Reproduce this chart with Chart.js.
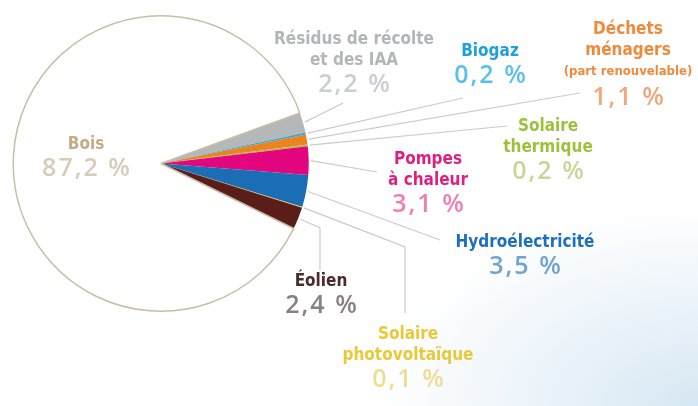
<!DOCTYPE html>
<html lang="fr">
<head>
<meta charset="utf-8">
<script src="https://cdn.jsdelivr.net/npm/chart.js@4.4.0/dist/chart.umd.min.js"></script>
<style>
  html, body { margin: 0; padding: 0; }
  body {
    width: 698px;
    height: 406px;
    overflow: hidden;
    background: radial-gradient(ellipse 320px 200px at 100% 100%, #d6e7f3 0%, #e9f2f9 45%, #ffffff 100%);
  }
  #wrap { position: relative; width: 698px; height: 406px; }
</style>
</head>
<body>
<div id="wrap"><canvas id="mixChart" width="698" height="406"></canvas></div>
<script>
// slices clockwise, starting from the top of the small wedge, wood last
const categories = [
  ['Résidus de récolte', 'et des IAA'],
  ['Biogaz'],
  ['Déchets', 'ménagers', '(part renouvelable)'],
  ['Solaire', 'thermique'],
  ['Pompes', 'à chaleur'],
  ['Hydroélectricité'],
  ['Solaire', 'photovoltaïque'],
  ['Éolien'],
  ['Bois']
];
const shares = [2.2, 0.2, 1.1, 0.2, 3.1, 3.5, 0.1, 2.4, 87.2];

const sliceColors = ['#b4b8b9', '#2ea9df', '#ea8421', '#a8c23d', '#e4067f', '#1b6db6', '#f0cf3c', '#5a1d1a', '#ffffff'];
const nameColors = ['#b3b5b8', '#1f9fdc', '#ef8a3d', '#9dc13b', '#df1f80', '#1f6fbf', '#e9c93a', '#4b2b2c', '#c3ad86'];
const valueColors = ['#cacdd3', '#5cc0ec', '#f2a77b', '#c7d79a', '#f07fb1', '#72a2d2', '#f0dc92', '#8a8084', '#d8ccb8'];

// where each label sits and where its leader line ends (null = no line)
const labelLayout = [
  { x: 354, y: 40, end: [[343, 103]] },
  { x: 490, y: 52, end: [[463, 98]] },
  { x: 628, y: 30, end: [[580, 93]] },
  { x: 548, y: 127, end: [[507, 126]] },
  { x: 428, y: 160, end: [[377, 172]] },
  { x: 525, y: 243, end: [[440, 240]] },
  { x: 408, y: 335, end: [[405, 247], [405, 313]] },
  { x: 321, y: 282, end: [[320, 228], [320, 270]] },
  { x: 86, y: 145, end: null }
];

function fmtShare(v) {
  return String(v).replace('.', ',') + ' %';
}

const labelPlugin = {
  id: 'sliceLabels',
  afterDraw(chart) {
    const ctx = chart.ctx;
    const arcs = chart.getDatasetMeta(0).data;
    ctx.save();

    // leader lines from the rim of each slice
    ctx.strokeStyle = '#cbcbcb';
    ctx.lineWidth = 1.2;
    arcs.forEach((arc, i) => {
      const lay = labelLayout[i];
      if (!lay.end) return;
      const mid = (arc.startAngle + arc.endAngle) / 2;
      const r = arc.outerRadius + 2;
      ctx.beginPath();
      ctx.moveTo(arc.x + Math.cos(mid) * r, arc.y + Math.sin(mid) * r);
      lay.end.forEach(p => ctx.lineTo(p[0], p[1]));
      ctx.stroke();
    });

    ctx.textAlign = 'center';
    ctx.textBaseline = 'middle';
    categories.forEach((lines, i) => {
      const lay = labelLayout[i];
      let y = lay.y;
      ctx.fillStyle = nameColors[i];
      ctx.letterSpacing = '0px';
      lines.forEach(line => {
        if (line.startsWith('(')) {
          ctx.font = 'bold 13px "DejaVu Sans Condensed", "DejaVu Sans", sans-serif';
        } else {
          ctx.font = 'bold 17px "DejaVu Sans Condensed", "DejaVu Sans", sans-serif';
        }
        ctx.fontStretch = 'condensed';
        ctx.fillText(line, lay.x, y);
        y += line.startsWith('(') ? 23 : 21;
      });
      ctx.fillStyle = valueColors[i];
      ctx.font = '600 25px "Open Sans", sans-serif';
      ctx.fontStretch = 'normal';
      ctx.letterSpacing = '2px';
      ctx.fillText(fmtShare(shares[i]), lay.x + 1, y + 3);
    });
    ctx.restore();
  }
};

const ctx1 = document.getElementById('mixChart').getContext('2d');
new Chart(ctx1, {
  type: 'pie',
  data: {
    labels: categories,
    datasets: [{
      data: shares,
      backgroundColor: sliceColors,
      borderColor: sliceColors.map((c, i) => i === sliceColors.length - 1 ? '#c9bea6' : c),
      borderWidth: sliceColors.map((c, i) => i === sliceColors.length - 1 ? 1.5 : 0)
    }]
  },
  options: {
    responsive: false,
    animation: false,
    events: [],
    rotation: 70,
    layout: {
      padding: { left: 12, top: 15, right: 388, bottom: 94 }
    },
    plugins: {
      legend: { display: false },
      tooltip: { enabled: false }
    }
  },
  plugins: [labelPlugin]
});
</script>
</body>
</html>
